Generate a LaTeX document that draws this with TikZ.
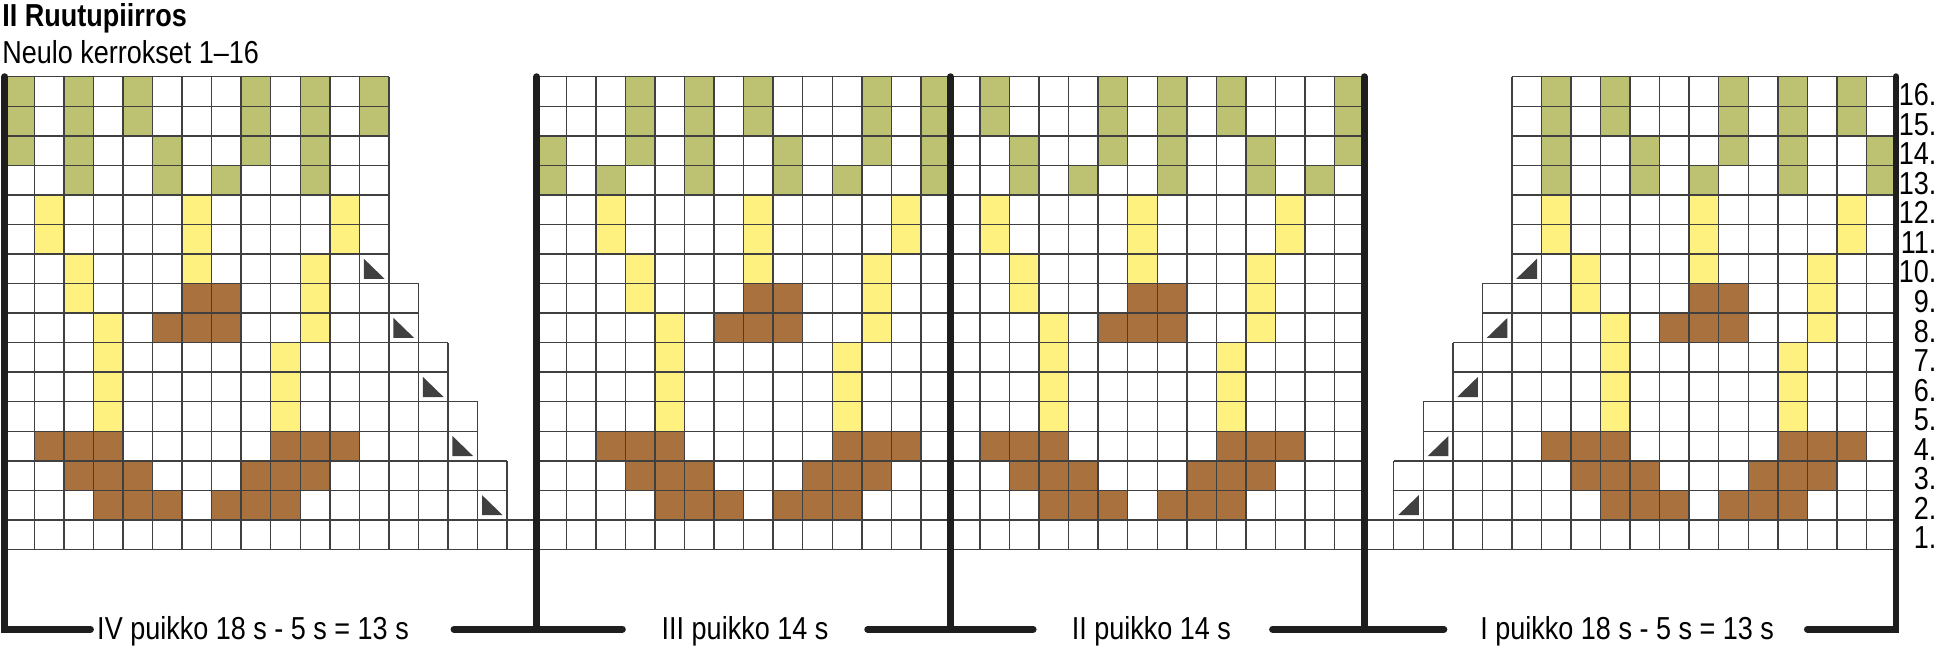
\documentclass[tikz,border=0pt]{standalone}
\usepackage{fontspec}
\setmainfont[FakeStretch=0.85]{Liberation Sans}
\definecolor{vihrea}{RGB}{188,194,114}
\definecolor{keltainen}{RGB}{255,241,128}
\definecolor{ruskea}{RGB}{168,113,61}
\definecolor{viiva}{RGB}{64,64,64}
\definecolor{musta}{RGB}{30,30,30}
\newcommand{\kirjain}{\fontsize{15.3pt}{18pt}\selectfont}

\begin{document}
\begin{tikzpicture}[x=0.5cm, y=0.5cm,
  ruutu/.style={draw=viiva, line width=0.7pt, step=0.5cm},
  palkki/.style={draw=musta, line width=3.3pt, line cap=round, line join=miter},
  kolmio/.style={fill=musta!85},
  teksti/.style={font=\kirjain, inner sep=0pt}]
  \useasboundingbox (-0.1624,-3.40) rectangle (65.42,18.595);
  \fill[white] (-0.1624,-3.40) rectangle (65.42,18.595);

  % Vihreät ruudut, kerrokset 13-16
  \foreach \x in {0,2,4,8,10,12,21,23,25,29,31,33,37,39,41,45,52,54,58,60,62}
    \fill[vihrea] (\x,14) rectangle +(1,2);
  \foreach \x in {0,2,5,8,10,18,21,23,26,29,31,34,37,39,42,45,52,55,58,60,63}
    \fill[vihrea] (\x,13) rectangle +(1,1);
  \foreach \x in {2,5,7,10,18,20,23,26,28,31,34,36,39,42,44,52,55,57,60,63}
    \fill[vihrea] (\x,12) rectangle +(1,1);

  % Kukat: sama kuvio joka puikolla
  \foreach \d in {0,19,32,51} {
    \foreach \x/\r in {1/12,6/12,11/12,1/11,6/11,11/11,2/10,6/10,10/10,2/9,10/9,
                       3/8,10/8,3/7,9/7,3/6,9/6,3/5,9/5}
      \fill[keltainen] (\d+\x,\r-1) rectangle +(1,1);
    \foreach \x/\r in {6/9,7/9,5/8,6/8,7/8,1/4,2/4,3/4,9/4,10/4,11/4,
                       2/3,3/3,4/3,8/3,9/3,10/3,3/2,4/2,5/2,7/2,8/2,9/2}
      \fill[ruskea] (\d+\x,\r-1) rectangle +(1,1);
  }

  % Ruudukko
  \draw[ruutu] (0,0) grid (13,16);
  \draw[ruutu] (18,0) grid (46,16);
  \draw[ruutu] (51,0) grid (64,16);
  \foreach \k in {1,...,5} {
    \draw[ruutu] (12+\k,0) grid (13+\k,11-2*\k);
    \draw[ruutu] (51-\k,0) grid (52-\k,11-2*\k);
    % kavennukset
    \fill[kolmio] (11.15+\k,11.84-2*\k) -- (11.15+\k,11.16-2*\k) -- (11.85+\k,11.16-2*\k) -- cycle;
    \fill[kolmio] (52.15-\k,11.16-2*\k) -- (52.85-\k,11.16-2*\k) -- (52.85-\k,11.84-2*\k) -- cycle;
  }

  % Puikkojen rajat
  \draw[palkki] (2.9,-2.7) -- (0,-2.7) -- (0,16);
  \draw[palkki] (61.0,-2.7) -- (64,-2.7) -- (64,16);
  \foreach \x in {18,32,46}
    \draw[palkki] (\x,16) -- (\x,-2.7);
  \draw[palkki] (15.2,-2.7) -- (20.9,-2.7);
  \draw[palkki] (29.2,-2.7) -- (34.8,-2.7);
  \draw[palkki] (42.9,-2.7) -- (48.7,-2.7);

  % Otsikot
  \node[teksti, font=\kirjain\bfseries, anchor=base west] (otsikko) at (-0.1,17.69) {II Ruutupiirros};
  \node[teksti, anchor=base west] (ohje) at (-0.1,16.45) {Neulo kerrokset 1–16};

  % Kerrosnumerot
  \foreach \r in {1,...,16}
    \node[teksti, anchor=base east] (kerros\r) at (65.38,\r-0.98) {\r.};

  % Puikot
  \node[teksti, anchor=base] (puikkoIV) at (8.4,-3.03) {IV puikko 18 s - 5 s = 13 s};
  \node[teksti, anchor=base] (puikkoIII) at (25.05,-3.03) {III puikko 14 s};
  \node[teksti, anchor=base] (puikkoII) at (38.8,-3.03) {II puikko 14 s};
  \node[teksti, anchor=base] (puikkoI) at (54.9,-3.03) {I puikko 18 s - 5 s = 13 s};
\end{tikzpicture}
\end{document}
